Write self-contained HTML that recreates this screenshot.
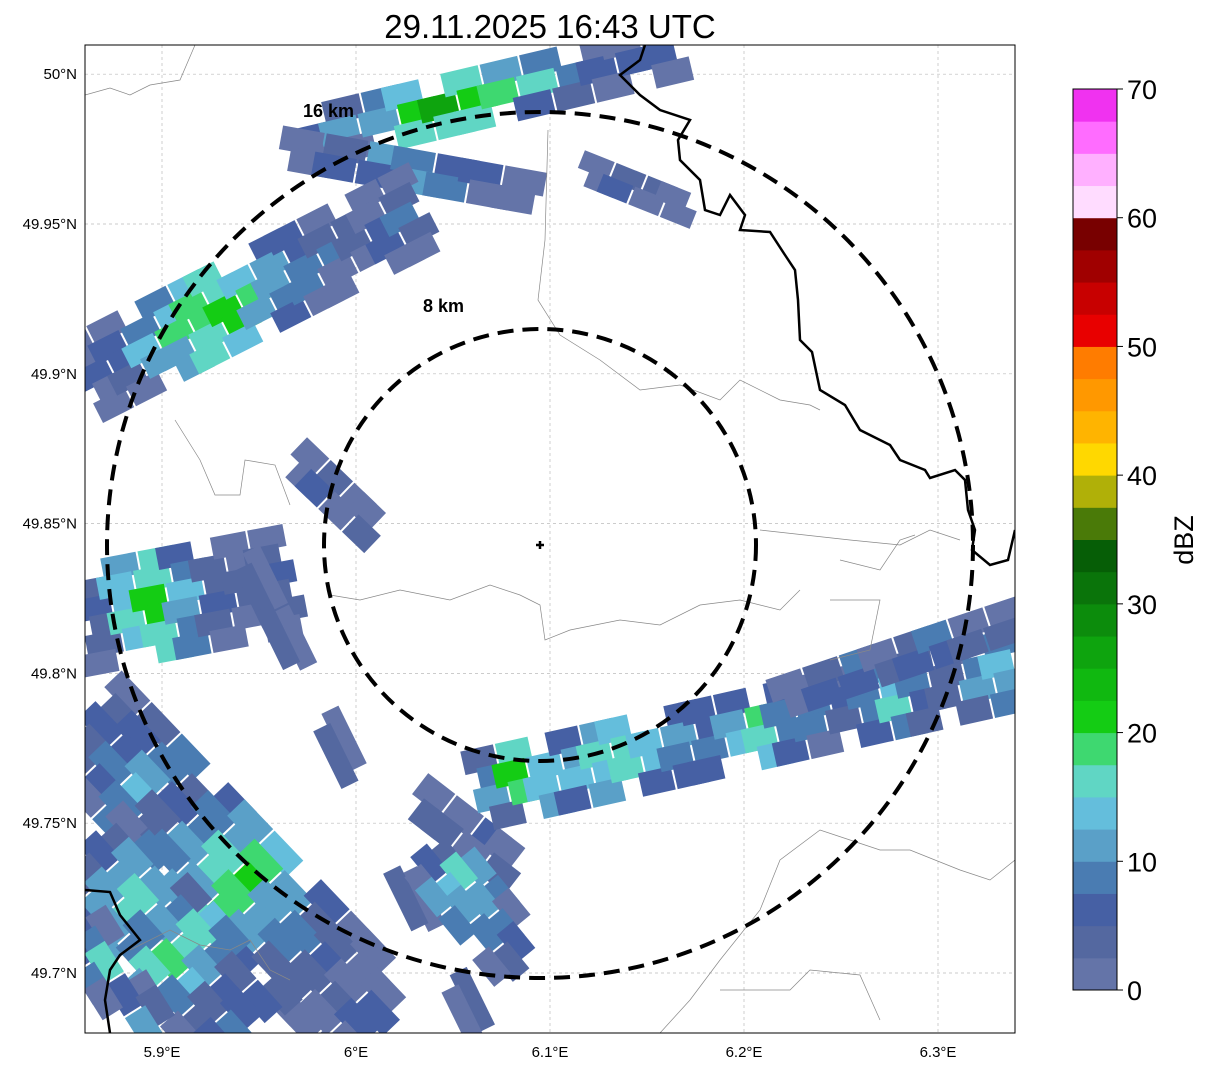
<!DOCTYPE html>
<html><head><meta charset="utf-8"><style>
html,body{margin:0;padding:0;background:#fff;}
svg{display:block;font-family:"Liberation Sans",sans-serif;}
</style></head><body>
<svg id="chart" width="1207" height="1069" viewBox="0 0 1207 1069">
<defs><clipPath id="pc"><rect x="85" y="45" width="930" height="988"/></clipPath></defs>
<text x="550" y="38" text-anchor="middle" font-size="33" fill="#000">29.11.2025 16:43 UTC</text>
<g id="grid"></g>
<g id="map" clip-path="url(#pc)">
 <g id="echo"></g>
 <g fill="none" stroke="#888" stroke-width="0.7">
  <path d="M85,95 L110,88 130,95 150,85 180,80 195,45"/>
  <path d="M548,130 L545,240 538,300 560,335 600,360 640,390 680,385 720,400 740,380 780,400 810,405 820,410"/>
  <path d="M175,420 L200,460 215,495 240,495 245,460 275,465 290,505"/>
  <path d="M330,595 L360,600 400,590 450,600 490,585 520,595 540,605 545,640 570,630 620,620 660,625 700,605 740,600 780,610 800,590"/>
  <path d="M760,530 L850,540 900,545 930,530 960,540"/>
  <path d="M840,560 L880,570 900,540 915,535"/>
  <path d="M830,600 L880,600 870,650 830,660"/>
  <path d="M660,1033 L690,1000 720,960 760,910 780,860 820,830 850,840 880,850 910,850 960,870 990,880 1015,860"/>
  <path d="M130,950 L170,930 200,945 230,950 250,940 270,970 290,980"/>
  <path d="M720,990 L790,990 810,970 860,975 880,1020"/>
 </g>
 <g fill="none" stroke="#000" stroke-width="2.5">
  <path d="M645,45 L640,60 620,75 640,95 660,110 690,120 678,140 680,160 700,180 705,210 720,215 730,195 745,215 740,230 770,232 785,255 795,270 798,300 800,340 812,352 820,390 845,405 860,430 890,445 900,460 925,470 930,478 955,470 965,480 968,510 975,530 972,550 990,565 1008,560 1015,530"/>
  <path d="M85,890 L110,892 120,915 140,940 120,955 110,970 105,1000 110,1033"/>
 </g>
 <circle cx="540" cy="545" r="433" fill="none" stroke="#000" stroke-width="4" stroke-dasharray="16,9"/>
 <circle cx="540" cy="545" r="216" fill="none" stroke="#000" stroke-width="4" stroke-dasharray="16,9"/>
 <path d="M536,545 H544 M540,541 V549" stroke="#000" stroke-width="2.5"/>
 <text x="303" y="117" font-size="18" font-weight="bold">16 km</text>
 <text x="423" y="312" font-size="18" font-weight="bold">8 km</text>
</g>
<rect x="85" y="45" width="930" height="988" fill="none" stroke="#000" stroke-width="1"/>
<g id="ticks"></g>
<g id="cbar"></g>
<text transform="translate(1193,540) rotate(-90)" text-anchor="middle" font-size="27">dBZ</text>
</svg>
<script>
const lonTicks=[5.9,6.0,6.1,6.2,6.3];
const lonLabels=["5.9°E","6°E","6.1°E","6.2°E","6.3°E"];
const latTicks=[49.7,49.75,49.8,49.85,49.9,49.95,50.0];
const latLabels=["49.7°N","49.75°N","49.8°N","49.85°N","49.9°N","49.95°N","50°N"];
const cbTicks=[0,10,20,30,40,50,60,70];
const cbColors=["#6474a8","#5468a0","#4660a4","#4a7cb2","#5aa0c8","#64bedc","#60d6c4","#3ed870","#14cc14","#10b810","#0ea40e","#0c8c0c","#0a740a","#065e06","#4a7a08","#b0b008","#ffd800","#ffb400","#ff9800","#ff7c00","#e80000","#c80000","#a00000","#780000","#ffdcff","#ffb0ff","#ff6cff","#f032f0"];
// bands: start lon/lat, end lon/lat, dBZ along band (0 = no echo)
const bandStart=[[5.971,49.978],[5.966,49.975],[5.860,49.898],[5.971,49.871],[5.860,49.818],[5.860,49.784],[5.860,49.741],[5.860,49.714],[5.945,49.837],[6.034,49.758],[6.064,49.761],[6.220,49.792],[6.038,49.741],[6.120,49.968]];
const bandEnd=[[6.167,50.008],[6.095,49.960],[6.033,49.955],[6.008,49.848],[5.966,49.831],[6.012,49.681],[5.945,49.680],[5.893,49.680],[6.064,49.680],[6.080,49.735],[6.340,49.801],[6.340,49.818],[6.085,49.704],[6.170,49.955]];
const bandVals=[[5,8,12,20,22,20,18,12,8,5,3,5],[3,5,10,12,8,5,3],[3,5,12,15,18,20,15,10,8,5,3,5,6],[3,5,2,4],[5,15,20,12,5,3,5],[5,8,12,5,10,15,20,12,8,5,3,5],[5,12,15,10,18,12,5,8],[8,14,5,10],[4,3,0,4,0,0,5,0,3],[5,3,5,4],[10,20,15,12,15,17,13,10,8,12,18,10,8,5,10,15,8,5,10,12],[3,5,8,5,6,8,5,3],[5,15,12,8,5],[3,5,4,3]];
const bandWidth=[60,40,90,40,110,120,120,60,30,45,80,40,70,30];
const X=lon=>162+(lon-5.9)*1940, Y=lat=>973-(lat-49.7)*2996;
const CB=v=>990-v*(901/70);
const NS="http://www.w3.org/2000/svg";
function mk(t,a,p){const e=document.createElementNS(NS,t);for(const k in a)e.setAttribute(k,a[k]);p.appendChild(e);return e;}
const grid=document.getElementById('grid'),ticks=document.getElementById('ticks');
lonTicks.forEach((v,i)=>{
 const l=mk('line',{x1:X(v),x2:X(v),y1:45,y2:1033,stroke:'#bbb','stroke-width':0.7,'stroke-dasharray':'3,3'},grid);
 
 
 const t=mk('text',{x:X(v),y:1057,'text-anchor':'middle','font-size':15},ticks);t.textContent=lonLabels[i];
 
 
});
latTicks.forEach((v,i)=>{
 const l=mk('line',{x1:85,x2:1015,y1:Y(v),y2:Y(v),stroke:'#bbb','stroke-width':0.7,'stroke-dasharray':'3,3'},grid);
 
 
 const t=mk('text',{x:77,y:Y(v)+5,'text-anchor':'end','font-size':15},ticks);t.textContent=latLabels[i];
 
 
});
const col=v=>cbColors[Math.max(0,Math.min(27,Math.floor(v/2.5)))];
const echo=document.getElementById('echo');
bandVals.forEach((vals,b)=>{
 const x0=X(bandStart[b][0]),y0=Y(bandStart[b][1]),x1=X(bandEnd[b][0]),y1=Y(bandEnd[b][1]);
 const dx=x1-x0,dy=y1-y0,L=Math.hypot(dx,dy),ang=Math.atan2(dy,dx)*180/Math.PI;
 const n=vals.length,seg=L/n,w=bandWidth[b],k=Math.max(1,Math.round(w/20)),cw=w/k;
 vals.forEach((v,i)=>{
  if(v<=0) return;
  for(let j=0;j<k;j++){
   const mid=Math.abs(j-(k-1)/2)/Math.max(1,(k-1)/2);
   if(k>1 && mid>0.6 && (i*5+j*3+b)%4===0) continue;
   const off=(j-(k-1)/2)*cw;
   const vv=Math.max(0.5,v-mid*6+((i+j)%3)*1.5);
   const cx=x0+dx*(i+0.5)/n - dy/L*off, cy=y0+dy*(i+0.5)/n + dx/L*off;
   const sh=((i*7+j*3)%5-2)*4;
   const r=mk('rect',{x:-seg/2-3+sh,y:-cw/2-2,width:seg+6,height:cw+4,fill:col(vv),transform:`translate(${cx},${cy}) rotate(${ang})`},echo);
   
   
  }
 });
});
const cb=document.getElementById('cbar');
cbColors.forEach((c,i)=>{
 const r=mk('rect',{x:1073,y:CB((i+1)*2.5),width:44,height:CB(i*2.5)-CB((i+1)*2.5)+0.5,fill:c},cb);
 
 
});
mk('rect',{x:1073,y:CB(70),width:44,height:CB(0)-CB(70),fill:'none',stroke:'#000','stroke-width':1},cb);
cbTicks.forEach(v=>{
 mk('line',{x1:1117,x2:1123,y1:CB(v),y2:CB(v),stroke:'#000'},cb);
 const t=mk('text',{x:1127,y:CB(v)+10,'font-size':27},cb);t.textContent=v;
 
 
});
</script>
</body></html>
